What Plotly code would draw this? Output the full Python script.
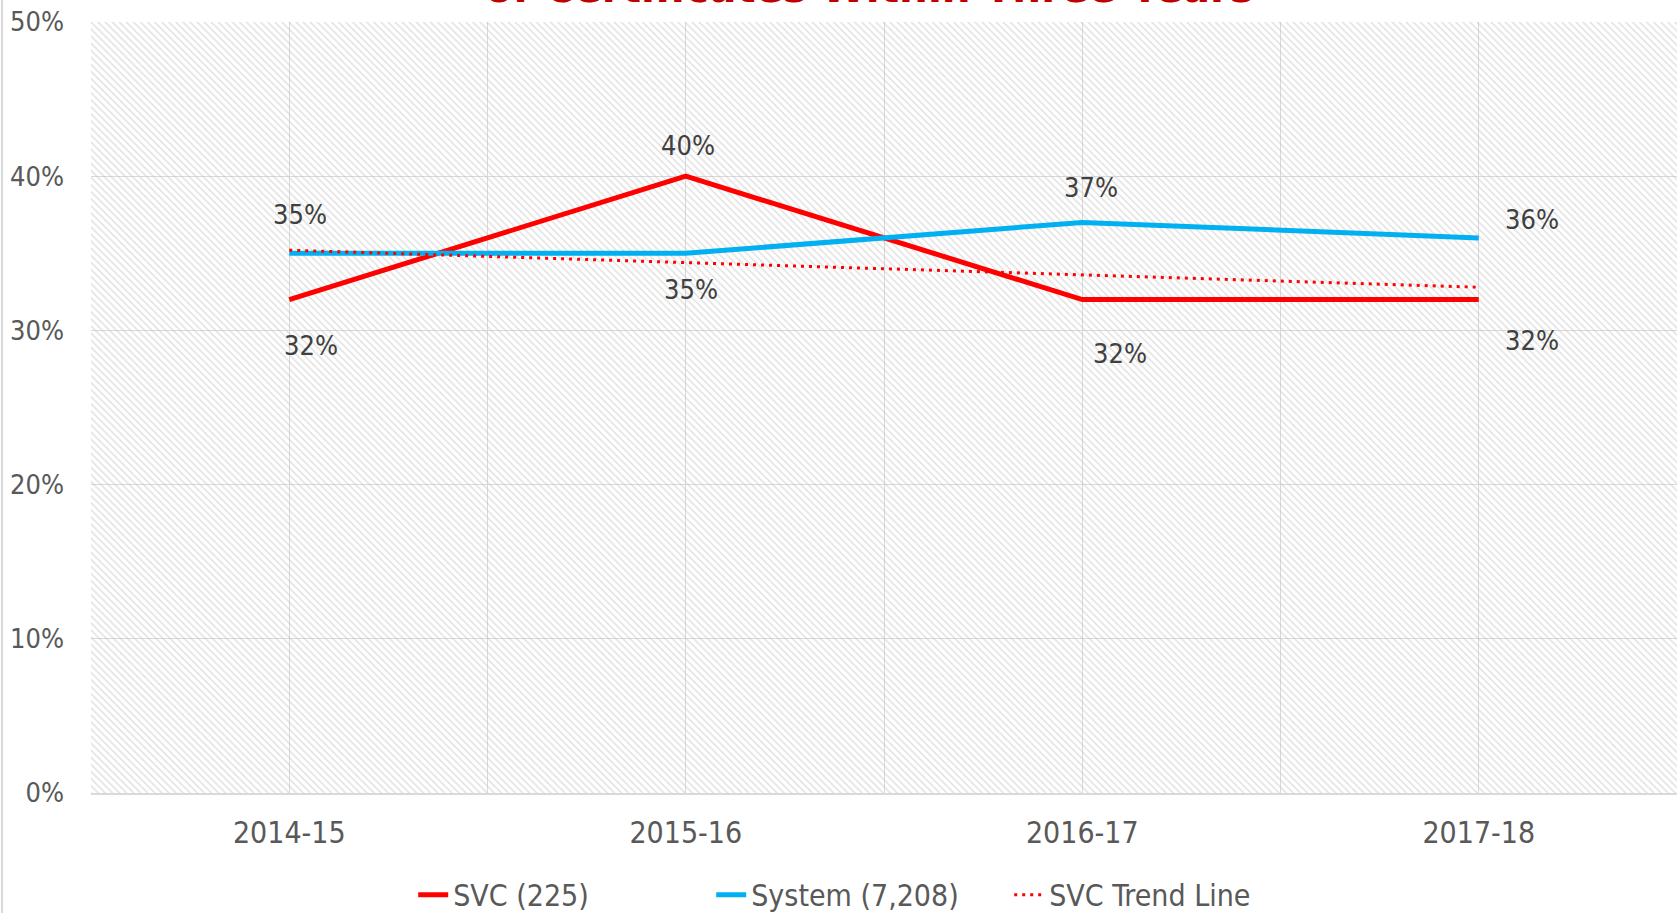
import plotly.graph_objects as go

years = ["2014-15", "2015-16", "2016-17", "2017-18"]
svc = [32, 40, 32, 32]
system = [35, 35, 37, 36]
svc_trend = [35.2, 34.4, 33.6, 32.8]

svc_name = "SVC (225)"
system_name = "System (7,208)"
trend_name = "SVC Trend Line"
title_text = "of Certificates Within Three Years"

xpos = list(range(len(years)))

FONT = "DejaVu Sans Condensed"
RED = "#FF0000"
BLUE = "#00B0F0"
LABEL_COLOR = "#404040"
TICK_COLOR = "#595959"
GRID = "#d9d9d9"

fig = go.Figure()

# hatched plot-area background
fig.add_trace(go.Bar(
    x=[(xpos[0] + xpos[-1]) / 2], y=[50], base=0, width=[len(years)],
    marker=dict(color="rgba(0,0,0,0)", line=dict(width=0),
                pattern=dict(shape="\\", fgcolor="#c4c4c4", bgcolor="rgba(0,0,0,0)",
                             size=5, solidity=0.3)),
    hoverinfo="skip", showlegend=False,
))

fig.add_trace(go.Scatter(x=xpos, y=svc, mode="lines", name=svc_name,
                         line=dict(color=RED, width=5)))
fig.add_trace(go.Scatter(x=xpos, y=system, mode="lines", name=system_name,
                         line=dict(color=BLUE, width=5)))
fig.add_trace(go.Scatter(x=xpos, y=svc_trend, mode="lines", name=trend_name,
                         line=dict(color=RED, width=3, dash="3px,5px")))

# data labels (xshift, yshift) per point
svc_shifts = [(22, -46), (2, 31), (38, -54), (53, -41)]
sys_shifts = [(11, 39), (5, -36), (9, 35), (53, 18)]
for i, v in enumerate(svc):
    fig.add_annotation(x=xpos[i], y=v, text=f"{v}%", showarrow=False,
                       xshift=svc_shifts[i][0], yshift=svc_shifts[i][1],
                       font=dict(family=FONT, size=27, color=LABEL_COLOR))
for i, v in enumerate(system):
    fig.add_annotation(x=xpos[i], y=v, text=f"{v}%", showarrow=False,
                       xshift=sys_shifts[i][0], yshift=sys_shifts[i][1],
                       font=dict(family=FONT, size=27, color=LABEL_COLOR))

# clipped title at top
fig.add_annotation(xref="paper", yref="paper", x=0.491, y=1.0095,
                   xanchor="center", yanchor="bottom", showarrow=False,
                   text=f"<b>{title_text}</b>",
                   font=dict(family=FONT, size=45, color="#C00000"))

# left chart border
fig.add_shape(type="line", xref="paper", yref="paper",
              x0=-0.0561, x1=-0.0561, y0=-0.2, y1=1.1,
              line=dict(color=GRID, width=2))

fig.update_layout(
    width=1680, height=913,
    margin=dict(l=91, r=3, t=22, b=120, autoexpand=False),
    paper_bgcolor="white", plot_bgcolor="white",
    font=dict(family=FONT, size=27, color=TICK_COLOR),
    showlegend=True,
    legend=dict(orientation="h", x=0.485, xanchor="center", y=-0.132, yanchor="middle",
                font=dict(family=FONT, size=30, color=TICK_COLOR),
                traceorder="normal", itemwidth=30, entrywidth=253),
    xaxis=dict(range=[-0.5, len(years) - 0.5], tickvals=xpos, ticktext=years,
               showgrid=True, gridcolor=GRID, gridwidth=1,
               minor=dict(tickvals=[p + 0.5 for p in [-1] + xpos], showgrid=True,
                          gridcolor=GRID, gridwidth=1),
               zeroline=False, showline=True, linecolor=GRID, linewidth=2,
               ticks="", ticklabelstandoff=12,
               tickfont=dict(family=FONT, size=30, color=TICK_COLOR),
               fixedrange=True),
    yaxis=dict(range=[0, 50], dtick=10, ticksuffix="%",
               showgrid=True, gridcolor=GRID, gridwidth=1,
               zeroline=False, showline=False, ticks="", ticklabelstandoff=26,
               tickfont=dict(family=FONT, size=27, color=TICK_COLOR),
               fixedrange=True),
)

fig.write_html("out.html", config={"displayModeBar": False},
               post_script="document.body.style.margin='0';document.body.style.overflow='hidden';")
